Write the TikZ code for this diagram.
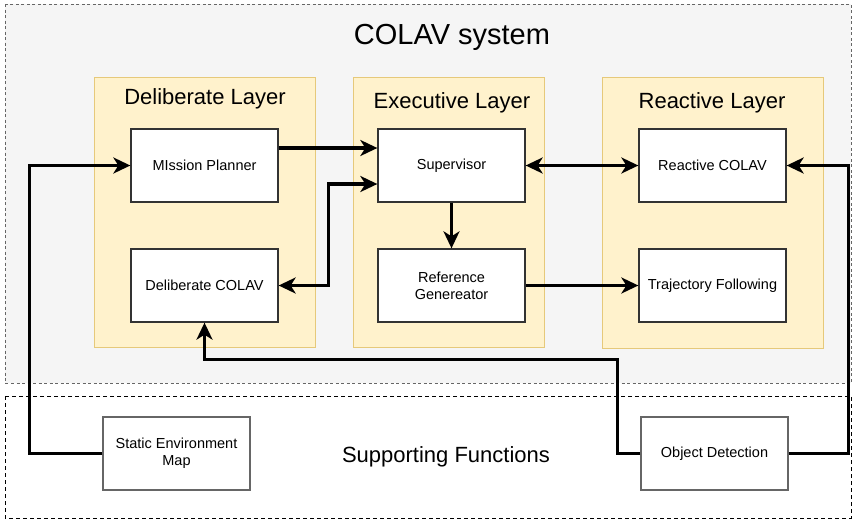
\documentclass[tikz,border=0pt]{standalone}
\usepackage{fontspec}
\setmainfont{Liberation Sans}
\usetikzlibrary{arrows.meta}
\definecolor{outerfill}{HTML}{F5F5F5}
\definecolor{outerline}{HTML}{666666}
\definecolor{layerfill}{HTML}{FFF2CC}
\definecolor{layerline}{HTML}{E6C97A}
\definecolor{boxline}{HTML}{333333}
\begin{document}
\begin{tikzpicture}[x=1pt,y=-1pt,
  layerbox/.style={draw=layerline,fill=layerfill,line width=1pt},
  block/.style={draw=boxline,fill=white,line width=1.3pt,minimum width=147pt,minimum height=73pt,inner sep=2pt,align=center,font=\fontsize{14.5}{17}\selectfont},
  supblock/.style={block,draw=outerline},
  layertitle/.style={font=\fontsize{22}{26}\selectfont},
  conn/.style={line width=3.3pt,-{Stealth[length=17pt,width=16pt,inset=5pt]}},
  conn2/.style={line width=3.3pt,{Stealth[length=17pt,width=16pt,inset=5pt]}-{Stealth[length=17pt,width=16pt,inset=5pt]}}
]
\useasboundingbox (0,0) rectangle (853,523);
% outer boxes
\draw[draw=outerline,fill=outerfill,line width=0.8pt,dash pattern=on 3pt off 2.5pt] (5,4) rectangle (851,383);
\draw[draw=black,fill=white,line width=0.8pt,dash pattern=on 4pt off 3pt] (5,396) rectangle (851,518);
\node[font=\fontsize{29}{34}\selectfont] (title) at (452,37) {COLAV system};
\node[font=\fontsize{22}{26}\selectfont] (supt) at (446,457) {Supporting Functions};
% layers
\draw[layerbox] (94,77) rectangle (315,347);
\draw[layerbox] (353,77) rectangle (544,347);
\draw[layerbox] (602,77) rectangle (823,348);
\node[layertitle] (dlt) at (205,99) {Deliberate Layer};
\node[layertitle] (elt) at (452,103) {Executive Layer};
\node[layertitle] (rlt) at (712,103) {Reactive Layer};
% blocks
\node[block] (mp) at (204.5,165.5) {MIssion Planner};
\node[block] (sup) at (451.5,165.5) {Supervisor};
\node[block] (rc) at (712.5,165.5) {Reactive COLAV};
\node[block] (dc) at (204.5,285.5) {Deliberate COLAV};
\node[block] (ref) at (451.5,285.5) {Reference\\Genereator};
\node[block] (tf) at (712.5,285.5) {Trajectory Following};
\node[supblock] (sem) at (176.5,453.5) {Static Environment\\Map};
\node[supblock] (od) at (714.5,453.5) {Object Detection};
% connectors
\draw[conn] ([yshift=17.5pt]mp.east) -- ([yshift=17.5pt]sup.west);
\draw[conn2] (dc.east) -- ++(50,0) |- ([yshift=-18.5pt]sup.west);
\draw[conn2] (sup.east) -- (rc.west);
\draw[conn] (sup.south) -- (ref.north);
\draw[conn] (ref.east) -- (tf.west);
\draw[conn] (sem.west) -- ++(-73,0) |- (mp.west);
\draw[conn] (od.west) -- ++(-23,0) |- ([yshift=-37pt]dc.south) -- (dc.south);
\draw[conn] (od.east) -- ++(60,0) |- (rc.east);
\end{tikzpicture}
\end{document}
